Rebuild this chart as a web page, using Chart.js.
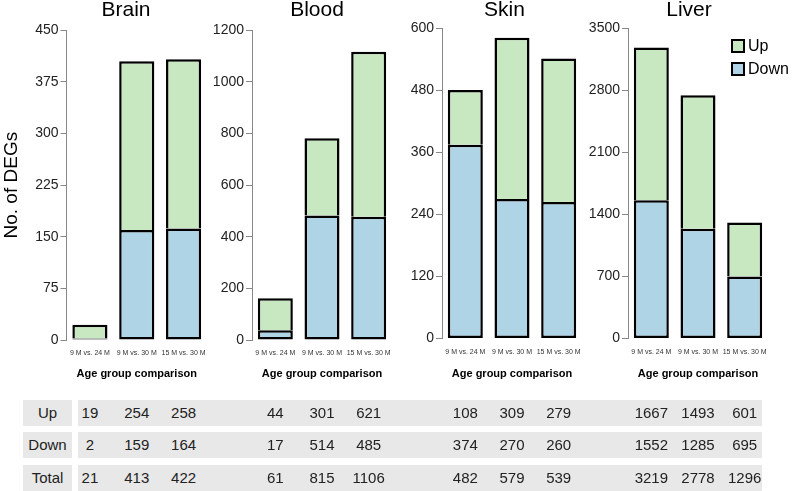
<!DOCTYPE html>
<html>
<head>
<meta charset="utf-8">
<script src="https://cdn.jsdelivr.net/npm/chart.js@4.4.0/dist/chart.umd.min.js"></script>
<style>
    body { margin: 0; width: 794px; height: 491px; overflow: hidden; position: relative; background: #fff;
           font-family: "Liberation Sans", Arial, sans-serif; color: #222; }
    canvas { position: absolute; top: 0; }
    .cell { position: absolute; background: #e8e8e8; }
    .num { position: absolute; font-size: 15px; transform: translateX(-50%); white-space: nowrap; }
    .legendItem { position: absolute; font-size: 16px; color: #000; white-space: nowrap; }
    .legendBox { display: inline-block; width: 10px; height: 10px; border: 2.5px solid #000; vertical-align: -2px; margin-right: 3px; }
</style>
</head>
<body>
<script>
const comparisons = ['9 M vs. 24 M', '9 M vs. 30 M', '15 M vs. 30 M'];
const tissues = ['Brain', 'Blood', 'Skin', 'Liver'];

// bar heights as drawn in the panels
const downBrain = [2, 160, 162];
const upBrain = [20, 245, 246];
const downBlood = [38, 482, 478];
const upBlood = [124, 300, 639];
const downSkin = [375, 270, 264];
const upSkin = [106, 312, 278];
const downLiver = [1561, 1238, 700];
const upLiver = [1724, 1509, 610];

// y axes
const yMax = [450, 1200, 600, 3500];
const yStep = [75, 200, 120, 700];

// table under the panels (brain, blood, skin, liver x 3 comparisons)
const rowLabels = ['Up', 'Down', 'Total'];
const tableUp = [19, 254, 258, 44, 301, 621, 108, 309, 279, 1667, 1493, 601];
const tableDown = [2, 159, 164, 17, 514, 485, 374, 270, 260, 1552, 1285, 695];
const tableTotal = [21, 413, 422, 61, 815, 1106, 482, 579, 539, 3219, 2778, 1296];

const GREEN = 'rgb(200, 232, 193)';
const BLUE = 'rgb(175, 212, 229)';
const H = 385;

Chart.defaults.font.family = '"Liberation Sans", Arial, sans-serif';

// page positions of each panel; canvas is centred on the title
const panels = [
    {left: 0,   plotLeft: 66.5, plotRight: 207, top: 30.3, bottom: 340,   titleX: 126},
    {left: 210, plotLeft: 252,  plotRight: 392, top: 30.3, bottom: 340,   titleX: 317},
    {left: 400, plotLeft: 442,  plotRight: 582, top: 28.5, bottom: 338.5, titleX: 504.5},
    {left: 585, plotLeft: 628,  plotRight: 768, top: 28.5, bottom: 338.5, titleX: 689}
];

function makePanel(i, down, up) {
    const p = panels[i];
    const w = 2 * (p.titleX - p.left);
    const yWidth = p.plotLeft - p.left;
    const rightWidth = p.left + w - p.plotRight;

    const canvas = document.createElement('canvas');
    canvas.width = w;
    canvas.height = H;
    canvas.style.left = p.left + 'px';
    document.body.appendChild(canvas);

    return new Chart(canvas, {
        type: 'bar',
        data: {
            labels: comparisons,
            datasets: [
                {label: 'Down', data: down, backgroundColor: BLUE, borderColor: '#000', borderWidth: 2.5, borderSkipped: false},
                {label: 'Up', data: up, backgroundColor: GREEN, borderColor: '#000', borderWidth: 2.5}
            ]
        },
        options: {
            responsive: false,
            animation: false,
            layout: {padding: 0},
            datasets: {bar: {barPercentage: 0.75, categoryPercentage: 1}},
            plugins: {
                legend: {display: false},
                tooltip: {enabled: false},
                title: {
                    display: true, text: tissues[i], color: '#000',
                    font: {size: 21, weight: 'normal', lineHeight: 1},
                    padding: {top: 0, bottom: p.top - 21}
                }
            },
            scales: {
                x: {
                    stacked: true,
                    grid: {display: false, drawTicks: false},
                    border: {display: false},
                    ticks: {font: {size: 7}, color: '#333', padding: 9, maxRotation: 0, autoSkip: false},
                    title: {display: true, text: 'Age group comparison', color: '#000',
                            font: {size: 11, weight: 'bold'}, padding: {top: 0, bottom: 4.4}},
                    afterFit: function (s) { s.height = H - p.bottom; }
                },
                y: {
                    stacked: true,
                    min: 0,
                    max: yMax[i],
                    ticks: {stepSize: yStep[i], font: {size: 14}, color: '#222', padding: 2,
                            callback: function (v) { return String(v); }},
                    grid: {drawOnChartArea: false, tickLength: 6, color: '#888', lineWidth: 1},
                    border: {color: '#888', width: 1},
                    title: {display: i === 0, text: 'No. of DEGs', color: '#000',
                            font: {size: 19}, padding: 0},
                    afterFit: function (s) { s.width = yWidth; }
                },
                // empty strip on the right so the title sits where it does in the figure
                gap: {
                    type: 'linear',
                    position: 'right',
                    display: true,
                    ticks: {display: false},
                    grid: {display: false},
                    border: {display: false},
                    afterFit: function (s) { s.width = rightWidth; }
                }
            }
        }
    });
}

const charts = [
    makePanel(0, downBrain, upBrain),
    makePanel(1, downBlood, upBlood),
    makePanel(2, downSkin, upSkin),
    makePanel(3, downLiver, upLiver)
];

// legend in the liver panel, up first
const liver = charts[3];
liver.data.datasets.slice().reverse().forEach(function (ds, k) {
    const item = document.createElement('div');
    item.className = 'legendItem';
    item.style.left = '731px';
    item.style.top = (37 + k * 23) + 'px';
    const box = document.createElement('span');
    box.className = 'legendBox';
    box.style.background = ds.backgroundColor;
    item.appendChild(box);
    item.appendChild(document.createTextNode(ds.label));
    document.body.appendChild(item);
});

// table
function e(cls, text, left, top, width, height) {
    const o = document.createElement('div');
    o.className = cls;
    if (text != null) o.textContent = text;
    o.style.left = left + 'px';
    o.style.top = top + 'px';
    if (width != null) o.style.width = width + 'px';
    if (height != null) o.style.height = height + 'px';
    document.body.appendChild(o);
    return o;
}

const rowTops = [400, 432.3, 465];
const rowH = 25.5;
[tableUp, tableDown, tableTotal].forEach(function (row, r) {
    const top = rowTops[r];
    const lab = e('cell', rowLabels[r], 23, top, 49, rowH);
    lab.style.fontSize = '15px';
    lab.style.textAlign = 'center';
    lab.style.lineHeight = rowH + 'px';
    e('cell', null, 78, top, 684, rowH);
    charts.forEach(function (chart, t) {
        comparisons.forEach(function (c, j) {
            const x = panels[t].left + chart.scales.x.getPixelForValue(j);
            const n = e('num', row[t * 3 + j], x, top);
            n.style.lineHeight = rowH + 'px';
        });
    });
});
</script>
</body>
</html>
